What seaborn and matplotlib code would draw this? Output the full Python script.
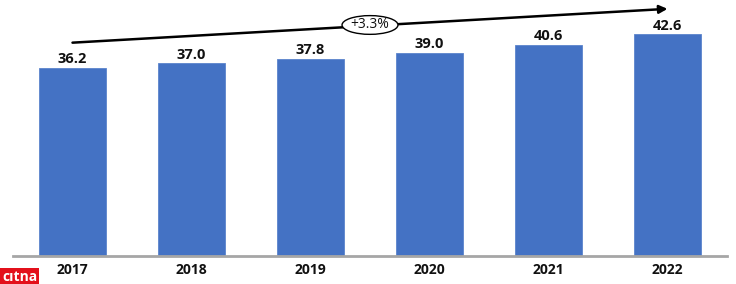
import matplotlib
matplotlib.use("Agg")
import matplotlib.pyplot as plt
from matplotlib.patches import Ellipse
import seaborn as sns
import pandas as pd

years = ["2017", "2018", "2019", "2020", "2021", "2022"]
values = [36.2, 37.0, 37.8, 39.0, 40.6, 42.6]
cagr_label = "+3.3%"

sns.set_style("white")
plt.rcParams['font.family'] = ['Open Sans', 'DejaVu Sans']

df = pd.DataFrame({"year": years, "value": values})

fig = plt.figure(figsize=(7.36, 2.84), dpi=100)
ax = fig.add_axes([13/736, 28/284, 714/736, 256/284])
sns.barplot(data=df, x="year", y="value", color="#4472C4", width=0.555,
            saturation=1, ax=ax, edgecolor="#5b84cc", linewidth=0.6)

ax.set_xlim(-0.5, 5.5)
ax.set_ylim(0, 49.2)
for i, v in enumerate(values):
    ax.text(i, v + 0.35, f"{v:.1f}", ha="center", va="bottom",
            fontsize=10.5, fontweight="bold", color="#111111")

ax.set_xlabel("")
ax.set_ylabel("")
ax.set_yticks([])
ax.tick_params(axis="x", length=0, pad=5)
for lab in ax.get_xticklabels():
    lab.set_fontweight("bold")
    lab.set_fontsize(10)
    lab.set_color("#111111")
for s in ["top", "right", "left"]:
    ax.spines[s].set_visible(False)
ax.spines["bottom"].set_color("#A6A6A6")
ax.spines["bottom"].set_linewidth(2)

# trend arrow
ax.annotate("", xy=(5.0, 47.5), xytext=(0.0, 41.0),
            arrowprops=dict(arrowstyle="-|>", color="black", lw=1.8,
                            mutation_scale=12, shrinkA=0, shrinkB=0),
            annotation_clip=False)
ell = Ellipse((2.5, 44.4), width=0.47, height=3.6, facecolor="white",
              edgecolor="black", linewidth=1, zorder=5, clip_on=False)
ax.add_patch(ell)
ax.text(2.5, 44.4, cagr_label, ha="center", va="center", fontsize=10,
        zorder=6, color="#111111")

# logo watermark
fig.text(2/736, 7/284, "cıtna", fontsize=10, fontweight="bold", color="white",
         ha="left", va="center",
         bbox=dict(boxstyle="square,pad=0.15", facecolor="#e3101b", edgecolor="none"))

fig.savefig("out.png", dpi=100)
